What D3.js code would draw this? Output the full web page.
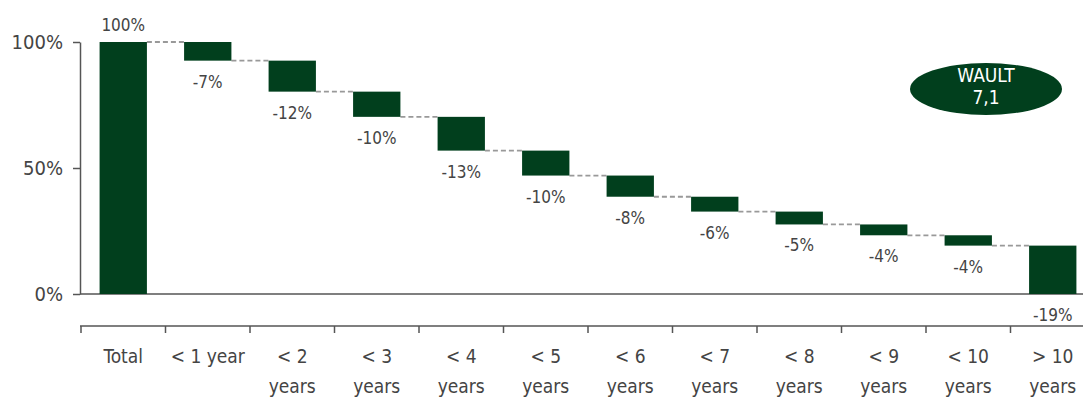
<!DOCTYPE html>
<html>
<head>
<meta charset="utf-8">
<script src="https://cdn.jsdelivr.net/npm/d3@7"></script>
<style>
  body { margin: 0; background: #fff; }
  svg text { font-family: 'DejaVu Sans Condensed', Roboto, sans-serif; fill: #444; }
</style>
</head>
<body>
<div id="chart"></div>
<script>
// categories along the x axis (each entry is the lines of the tick label)
const categories = ['Total', '< 1 year', '< 2 years', '< 3 years', '< 4 years', '< 5 years',
  '< 6 years', '< 7 years', '< 8 years', '< 9 years', '< 10 years', '> 10 years'];
const labelLines = [['Total'], ['< 1 year'], ['< 2', 'years'], ['< 3', 'years'], ['< 4', 'years'],
  ['< 5', 'years'], ['< 6', 'years'], ['< 7', 'years'], ['< 8', 'years'], ['< 9', 'years'],
  ['< 10', 'years'], ['> 10', 'years']];
// total and the share of leases expiring in each bucket (%)
const totalValue = 100;
const drops = [7.4, 12.3, 10.0, 13.4, 9.9, 8.4, 5.9, 5.1, 4.3, 4.1, 19.2];
// value labels as printed
const valueLabels = ['100%', '-7%', '-12%', '-10%', '-13%', '-10%', '-8%', '-6%', '-5%', '-4%', '-4%', '-19%'];
const yTicks = [0, 50, 100];
const waultLines = ['WAULT', '7,1'];

const width = 1083;
const height = 401;
const green = '#013f1d';

const svg = d3.select('#chart').append('svg')
  .attr('width', width)
  .attr('height', height);

// scales
const x = d3.scaleBand()
  .domain(categories)
  .range([81, 1095])
  .paddingInner(0.44)
  .paddingOuter(0.22);
const y = d3.scaleLinear()
  .domain([0, 100])
  .range([294, 42]);

// build the waterfall steps: each bar goes from start to end
const steps = [{ cat: categories[0], start: 0, end: totalValue, label: valueLabels[0] }];
let level = totalValue;
drops.forEach((d, i) => {
  const end = i === drops.length - 1 ? 0 : level - d;
  steps.push({ cat: categories[i + 1], start: level, end: end, label: valueLabels[i + 1] });
  level = end;
});

// y axis
const yAxis = svg.append('g')
  .attr('transform', 'translate(80,0)')
  .call(d3.axisLeft(y).tickValues(yTicks).tickFormat(d => d + '%').tickSize(7).tickSizeOuter(0).tickPadding(10));
yAxis.select('.domain').attr('stroke', '#555').attr('stroke-width', 1.5);
yAxis.selectAll('.tick line').attr('stroke', '#555').attr('stroke-width', 1.5);
yAxis.selectAll('.tick text').style('font-size', '20px').style('fill', '#444');

// baseline at 0
svg.append('line')
  .attr('x1', 80).attr('x2', width)
  .attr('y1', y(0)).attr('y2', y(0))
  .attr('stroke', '#555').attr('stroke-width', 1.5);

// dashed connectors between bars
svg.selectAll('.connector')
  .data(steps.slice(0, -1))
  .join('line')
  .attr('class', 'connector')
  .attr('x1', d => x(d.cat) + x.bandwidth())
  .attr('x2', (d, i) => x(steps[i + 1].cat))
  .attr('y1', d => y(d.end))
  .attr('y2', d => y(d.end))
  .attr('stroke', '#999')
  .attr('stroke-width', 1.8)
  .attr('stroke-dasharray', '5,3');

// bars
svg.selectAll('.bar')
  .data(steps)
  .join('rect')
  .attr('class', 'bar')
  .attr('x', d => x(d.cat))
  .attr('width', x.bandwidth())
  .attr('y', d => y(Math.max(d.start, d.end)))
  .attr('height', d => Math.abs(y(d.start) - y(d.end)))
  .attr('fill', green);

// value labels: above the total, below each drop
svg.selectAll('.val')
  .data(steps)
  .join('text')
  .attr('class', 'val')
  .attr('x', d => x(d.cat) + x.bandwidth() / 2)
  .attr('y', (d, i) => i === 0 ? y(d.end) - 11 : y(Math.min(d.start, d.end)) + 27)
  .attr('text-anchor', 'middle')
  .style('font-size', '17px')
  .text(d => d.label);

// lower category axis
const gap = x.step() - x.bandwidth();
const xAxis = svg.append('g');
xAxis.append('line')
  .attr('x1', 80).attr('x2', width)
  .attr('y1', 326).attr('y2', 326)
  .attr('stroke', '#555').attr('stroke-width', 1.5);
xAxis.selectAll('.xtick')
  .data(categories)
  .join('line')
  .attr('class', 'xtick')
  .attr('x1', d => x(d) - gap / 2)
  .attr('x2', d => x(d) - gap / 2)
  .attr('y1', 326).attr('y2', 333)
  .attr('stroke', '#555').attr('stroke-width', 1.5);
xAxis.selectAll('.xlabel')
  .data(categories)
  .join('text')
  .attr('class', 'xlabel')
  .attr('text-anchor', 'middle')
  .style('font-size', '19px')
  .each(function (d, i) {
    const t = d3.select(this);
    labelLines[i].forEach((line, j) => {
      t.append('tspan')
        .attr('x', x(d) + x.bandwidth() / 2)
        .attr('y', 363 + j * 30)
        .text(line);
    });
  });

// WAULT badge
const badge = svg.append('g').attr('transform', 'translate(986,89)');
badge.append('ellipse')
  .attr('rx', 76).attr('ry', 26)
  .attr('fill', green);
badge.selectAll('text')
  .data(waultLines)
  .join('text')
  .attr('text-anchor', 'middle')
  .attr('y', (d, i) => -7 + i * 22)
  .style('font-size', '19px')
  .style('fill', '#fff')
  .text(d => d);
</script>
</body>
</html>
